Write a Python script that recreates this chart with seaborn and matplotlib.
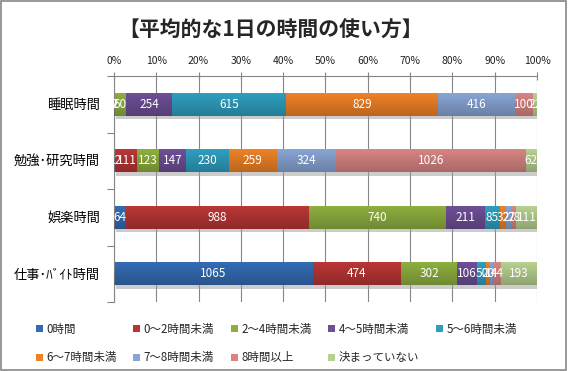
import matplotlib.pyplot as plt
import matplotlib.patheffects as pe
import numpy as np
import pandas as pd
import seaborn as sns
from matplotlib.patches import Patch, Rectangle
from matplotlib.ticker import PercentFormatter, FixedLocator

# --- data (number of answers) ---
categories = ['睡眠時間', '勉強･研究時間', '娯楽時間', '仕事･ﾊﾞｲﾄ時間']
series = ['0時間', '0～2時間未満', '2～4時間未満', '4～5時間未満', '5～6時間未満',
          '6～7時間未満', '7～8時間未満', '8時間以上', '決まっていない']

hours_0 = [2, 12, 64, 1065]
hours_0_2 = [2, 111, 988, 474]
hours_2_4 = [60, 123, 740, 302]
hours_4_5 = [254, 147, 211, 106]
hours_5_6 = [615, 230, 85, 50]
hours_6_7 = [829, 259, 32, 20]
hours_7_8 = [416, 324, 27, 14]
hours_8_up = [100, 1026, 28, 44]
undecided = [22, 62, 111, 193]

colors = ['#336CB4', '#B93636', '#8EAF3F', '#6E4F96', '#2F9FC0',
          '#EF8226', '#88A5D4', '#D78584', '#B7D190']

df = pd.DataFrame([hours_0, hours_0_2, hours_2_4, hours_4_5, hours_5_6,
                   hours_6_7, hours_7_8, hours_8_up, undecided],
                  index=series, columns=categories)
share = df / df.sum()
cum = share.cumsum()

sns.set_theme(style='white')
plt.rcParams['font.family'] = ['Noto Sans CJK JP', 'DejaVu Sans']

fig = plt.figure(figsize=(5.68, 3.71), dpi=100)
ax = fig.add_axes([0.2007, 0.186, 0.7447, 0.609])

# stacked bars: draw cumulative totals from the longest down
for i in range(len(series) - 1, -1, -1):
    n_before = len(ax.patches)
    sns.barplot(x=cum.iloc[i].values, y=categories, color=colors[i], width=0.4,
                saturation=1, linewidth=0, ax=ax, zorder=2)
    if i == len(series) - 1:
        for p in ax.patches[n_before:]:
            p.set_path_effects([pe.SimplePatchShadow(offset=(1.5, -2.5), shadow_rgbFace='#9a9a9a', alpha=0.5),
                                pe.Normal()])

# soft vertical gradient on each bar
grad = np.zeros((50, 1, 4))
grad[:, 0, 3] = np.linspace(0.0, 0.22, 50)
for j in range(len(categories)):
    ax.imshow(grad, extent=(0, 1, j + 0.2, j - 0.2), aspect='auto', zorder=3,
              interpolation='bilinear')

# data labels
for i, s in enumerate(series):
    for j, c in enumerate(categories):
        ax.text(cum.iloc[i, j] - share.iloc[i, j] / 2, j, str(df.iloc[i, j]),
                ha='center', va='center', color='white', fontsize=8.5, zorder=4,
                clip_on=False)

ax.set_xlim(0, 1)
ax.set_ylim(3.5, -0.5)
ax.set_xlabel('')
ax.set_ylabel('')

ax.xaxis.tick_top()
ax.set_xticks(np.arange(0, 1.01, 0.1))
ax.xaxis.set_major_formatter(PercentFormatter(1.0, decimals=0))
ax.tick_params(axis='x', which='major', direction='inout', length=6, width=0.8,
               color='#868686', labelsize=7.5, pad=4, labelcolor='#222222')
ax.set_yticks(range(len(categories)))
ax.set_yticklabels(categories)
ax.tick_params(axis='y', which='major', length=0, labelsize=9.5, pad=10, labelcolor='black')
ax.yaxis.set_minor_locator(FixedLocator([-0.5, 0.5, 1.5, 2.5, 3.5]))
ax.tick_params(axis='y', which='minor', direction='out', length=5, width=0.8,
               color='#868686', left=True)

ax.grid(axis='x', color='#868686', linewidth=0.8)
ax.set_axisbelow(True)
for side in ['bottom', 'right']:
    ax.spines[side].set_visible(False)
for side in ['left', 'top']:
    ax.spines[side].set_color('#868686')
    ax.spines[side].set_linewidth(0.8)

fig.text(0.476, 0.918, '【平均的な1日の時間の使い方】', ha='center', va='center',
         fontsize=15, fontweight='bold')

# legend, filled row by row like the original
handles = [Patch(facecolor=c, edgecolor='none') for c in colors]
order = [0, 5, 1, 6, 2, 7, 3, 8, 4]
fig.legend([handles[k] for k in order], [series[k] for k in order], ncol=5,
           loc='upper left', bbox_to_anchor=(0.045, 0.158), frameon=False,
           fontsize=8.3, handlelength=0.6, handleheight=0.6, handletextpad=0.3,
           columnspacing=1.45, labelspacing=1.35)

fig.patches.append(Rectangle((0.002, 0.003), 0.994, 0.994, transform=fig.transFigure,
                             fill=False, edgecolor='#868686', linewidth=1.2))

fig.savefig('out.png', dpi=100)
